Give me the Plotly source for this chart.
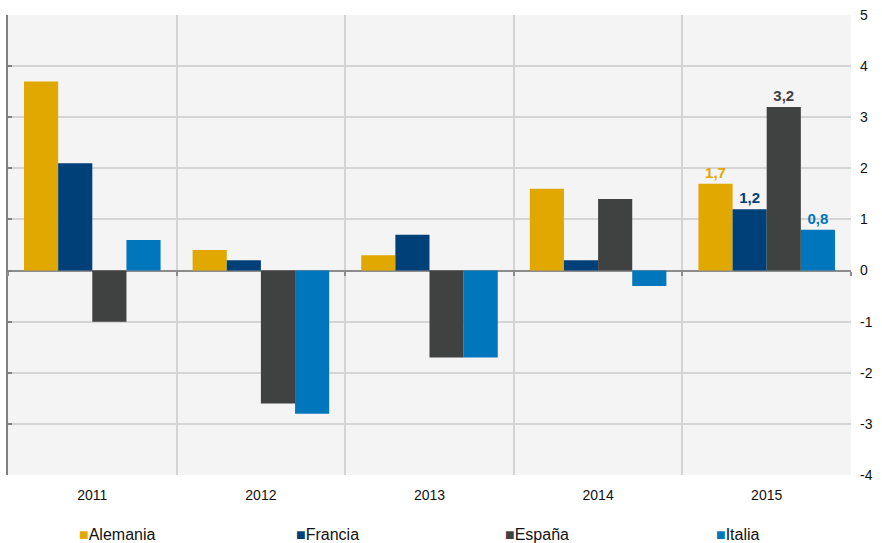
import plotly.graph_objects as go

# Years on the category axis
years = ["2011", "2012", "2013", "2014", "2015"]

# Annual values per country
alemania = [3.7, 0.4, 0.3, 1.6, 1.7]
francia = [2.1, 0.2, 0.7, 0.2, 1.2]
espana = [-1.0, -2.6, -1.7, 1.4, 3.2]
italia = [0.6, -2.8, -1.7, -0.3, 0.8]

series_names = ["Alemania", "Francia", "España", "Italia"]
series_values = [alemania, francia, espana, italia]
series_colors = ["#E0A800", "#004078", "#404141", "#0077BD"]

y_ticks = [-4, -3, -2, -1, 0, 1, 2, 3, 4, 5]
y_range = [-4, 5]

FONT = "Liberation Sans, Arial, sans-serif"

fig = go.Figure()
for name, vals, color in zip(series_names, series_values, series_colors):
    # only the latest year carries a value label
    labels = [""] * (len(vals) - 1) + [f"{vals[-1]:.1f}".replace(".", ",")]
    fig.add_trace(go.Bar(
        x=years, y=vals, name=name,
        marker=dict(color=color, line=dict(width=0)),
        text=labels, textposition="outside", cliponaxis=False,
        constraintext="none",
        textfont=dict(color=color, size=15, family=FONT),
        texttemplate="<b>%{text}</b>",
        showlegend=False,
    ))

# invisible trace to drive the left-hand axis line and the zero-line ticks
fig.add_trace(go.Scatter(x=years, y=[0] * len(years), xaxis="x2", yaxis="y2",
                         mode="markers", marker=dict(opacity=0),
                         showlegend=False, hoverinfo="skip"))

# legend row along the bottom: coloured square followed by the series name
legend_x = [0.082, 0.339, 0.587, 0.837]
annotations = []
for lx, name, color in zip(legend_x, series_names, series_colors):
    annotations.append(dict(
        xref="paper", yref="paper", x=lx, y=-0.130,
        xanchor="left", yanchor="middle", showarrow=False,
        text=f"<span style='color:{color}'>■</span>{name}",
        font=dict(family=FONT, size=16, color="#111111"),
    ))

zero_pos = (0 - y_range[0]) / (y_range[1] - y_range[0])

fig.update_layout(
    width=882, height=543,
    margin=dict(l=8, r=31, t=15, b=68),
    paper_bgcolor="white",
    plot_bgcolor="#F4F4F4",
    barmode="group",
    bargap=0.19,
    bargroupgap=0,
    font=dict(family=FONT, size=14, color="#111111"),
    showlegend=False,
    annotations=annotations,
    xaxis=dict(
        tickson="boundaries", showgrid=True, gridcolor="#D4D4D4", gridwidth=2,
        ticks="", showline=False, zeroline=False,
        tickfont=dict(size=14), ticklabelstandoff=10,
    ),
    xaxis2=dict(
        overlaying="x", matches="x", anchor="free", position=zero_pos,
        tickson="boundaries", ticks="outside", ticklen=4, tickwidth=2,
        tickcolor="#8C8C8C", showticklabels=False, showgrid=False,
        showline=False, zeroline=False,
    ),
    yaxis=dict(
        side="right", range=y_range, tickvals=y_ticks,
        ticktext=[str(v) for v in y_ticks],
        showgrid=True, gridcolor="#D4D4D4", gridwidth=2,
        zeroline=True, zerolinecolor="#8C8C8C", zerolinewidth=2,
        showline=False, ticks="", ticklabelstandoff=8,
        tickfont=dict(size=14),
    ),
    yaxis2=dict(
        overlaying="y", side="left", range=y_range, tickvals=y_ticks,
        showticklabels=False, showgrid=False, zeroline=False,
        showline=True, linecolor="#808080", linewidth=2,
        ticks="inside", ticklen=4, tickcolor="#808080", tickwidth=2,
    ),
)

fig.write_html("out.html")
